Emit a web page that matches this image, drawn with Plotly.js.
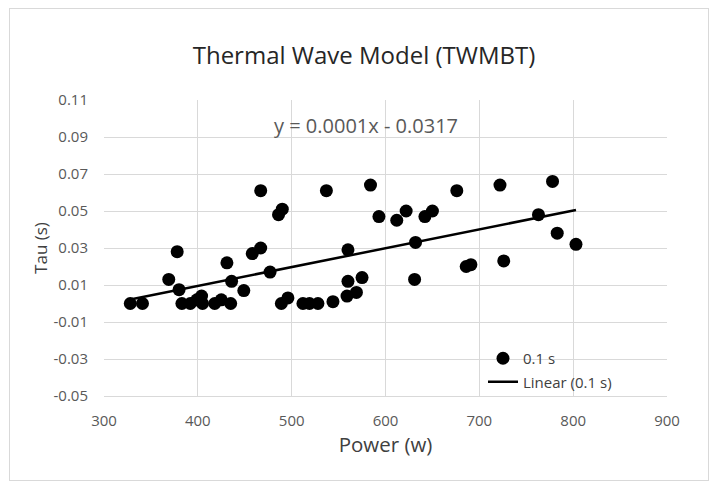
<!DOCTYPE html>
<html>
<head>
<meta charset="utf-8">
<script src="https://cdn.plot.ly/plotly-3.0.1.min.js"></script>
<style>
  html, body { margin: 0; padding: 0; background: #ffffff; }
  #wrap { position: relative; width: 711px; height: 490px; }
  #frame { position: absolute; left: 9px; top: 8px; width: 700px; height: 473px; border: 1px solid #d9d9d9; box-sizing: border-box; pointer-events: none; z-index: 5; }
  #chart { position: absolute; left: 0; top: 0; width: 711px; height: 490px; }
</style>
</head>
<body>
<div id="wrap">
  <div id="chart"></div>
  <div id="frame"></div>
</div>
<script>
// Power (w)
const power = [328, 341, 369, 378, 380, 383, 392, 399, 404, 405, 418, 425, 431, 435, 436, 449,
               458, 467, 467, 477, 486, 490, 489, 496, 512, 519, 528, 537, 544, 560, 560, 559,
               569, 575, 584, 593, 612, 622, 632, 631, 642, 650, 676, 686, 691, 722, 726, 763,
               778, 783, 803];
// Tau (s)
const tau = [0.000, 0.000, 0.013, 0.028, 0.0075, 0.000, 0.000, 0.002, 0.004, 0.000, 0.000, 0.002, 0.022, 0.000, 0.012, 0.007,
             0.027, 0.030, 0.061, 0.017, 0.048, 0.051, 0.000, 0.003, 0.000, 0.000, 0.000, 0.061, 0.001, 0.029, 0.012, 0.004,
             0.006, 0.014, 0.064, 0.047, 0.045, 0.050, 0.033, 0.013, 0.047, 0.050, 0.061, 0.020, 0.021, 0.064, 0.023, 0.048,
             0.066, 0.038, 0.032];

const yTickVals = [-0.05, -0.03, -0.01, 0.01, 0.03, 0.05, 0.07, 0.09, 0.11];
const yTickText = ['-0.05', '-0.03', '-0.01', '0.01', '0.03', '0.05', '0.07', '0.09', '0.11'];
const xTickVals = [300, 400, 500, 600, 700, 800, 900];
const xTickText = ['300', '400', '500', '600', '700', '800', '900'];

const seriesName = '0.1 s';
const trendName = 'Linear (0.1 s)';
const equationText = 'y = 0.0001x - 0.0317';

// least-squares linear trendline (as the spreadsheet computes it)
const n = power.length;
let sx = 0, sy = 0, sxx = 0, sxy = 0;
for (let i = 0; i < n; i++) { sx += power[i]; sy += tau[i]; sxx += power[i]*power[i]; sxy += power[i]*tau[i]; }
const slope = (n*sxy - sx*sy) / (n*sxx - sx*sx);
const intercept = (sy - slope*sx) / n;
const xMin = Math.min(...power), xMax = Math.max(...power);
const trendX = [xMin, xMax];
const trendY = trendX.map(v => slope*v + intercept);

const FONT = '"Open Sans", "Noto Sans", sans-serif';

const traces = [
  {
    x: power, y: tau, type: 'scatter', mode: 'markers', name: seriesName,
    legendgroup: 'a',
    marker: { color: '#000000', size: 13, line: { width: 0 } },
    cliponaxis: false
  },
  {
    x: trendX, y: trendY, type: 'scatter', mode: 'lines', name: trendName,
    legendgroup: 'b',
    line: { color: '#000000', width: 2.5 }
  }
];

const layout = {
  width: 711, height: 490,
  margin: { l: 104, r: 44, t: 100, b: 94 },
  paper_bgcolor: '#ffffff', plot_bgcolor: '#ffffff',
  font: { family: FONT, color: '#595959', size: 12 },
  title: {
    text: 'Thermal Wave Model (TWMBT)',
    font: { family: FONT, size: 24, color: '#262626' },
    x: 364 / 711, xanchor: 'center', xref: 'container', y: 1 - 56/490, yanchor: 'middle', yref: 'container'
  },
  xaxis: {
    range: [300, 900],
    tickvals: xTickVals, ticktext: xTickText,
    showgrid: true, gridcolor: '#d9d9d9', gridwidth: 1,
    zeroline: false, showline: true, linecolor: '#d9d9d9', linewidth: 1,
    ticks: '', ticklabelstandoff: 11,
    tickfont: { family: FONT, size: 15, color: '#595959' },
    title: { text: 'Power (w)', font: { family: FONT, size: 20.5, color: '#404040' }, standoff: 8 },
    mirror: false
  },
  yaxis: {
    range: [-0.05, 0.11],
    tickvals: yTickVals, ticktext: yTickText,
    showgrid: true, gridcolor: '#d9d9d9', gridwidth: 1,
    zeroline: false, showline: false,
    ticks: '', ticklabelstandoff: 15,
    tickfont: { family: FONT, size: 15, color: '#595959' },
    title: { text: 'Tau (s)', font: { family: FONT, size: 17, color: '#404040' }, standoff: 1 }
  },
  showlegend: true,
  legend: {
    x: (483 - 104) / 563, xanchor: 'left',
    y: (396 - 398) / 296, yanchor: 'bottom',
    bgcolor: 'rgba(0,0,0,0)',
    font: { family: FONT, size: 15, color: '#404040' },
    tracegroupgap: 1,
    itemwidth: 30
  },
  annotations: [
    {
      text: equationText, xref: 'paper', yref: 'paper',
      x: (366 - 104) / 563, y: (396 - 125) / 296, xanchor: 'center', yanchor: 'middle',
      showarrow: false, font: { family: FONT, size: 20, color: '#595959' }
    }
  ]
};

Plotly.newPlot('chart', traces, layout, { displayModeBar: false, staticPlot: true });
</script>
</body>
</html>
